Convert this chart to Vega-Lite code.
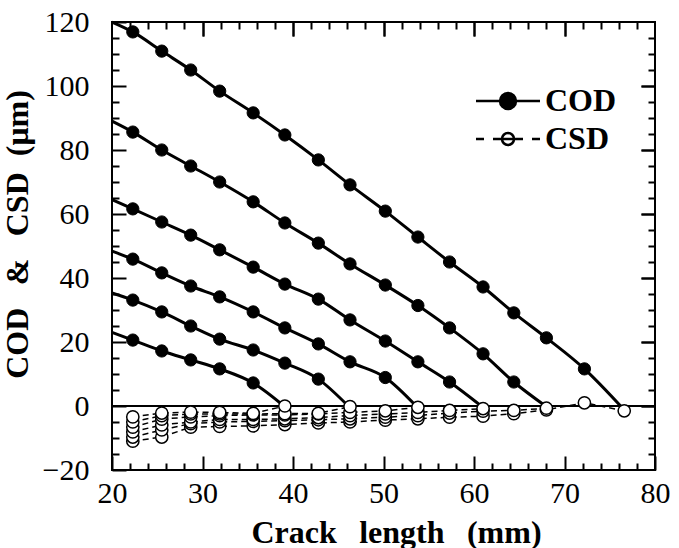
{
  "$schema": "https://vega.github.io/schema/vega-lite/v6.json",
  "width": 543,
  "height": 448,
  "autosize": {"type": "none"},
  "padding": {"left": 112, "top": 22, "right": 24, "bottom": 78},
  "background": "white",
  "config": {
    "font": "Liberation Serif",
    "view": {"stroke": "black", "strokeWidth": 2},
    "axis": {"grid": false, "domain": false, "labelFont": "Liberation Serif", "titleFont": "Liberation Serif", "labelColor": "black", "titleColor": "black", "tickColor": "black", "tickWidth": 2, "tickOpacity": 1, "labelOverlap": false, "zindex": 1}
  },
  "datasets": {
    "d": [
      {"curve": "A", "measure": "COD", "x": 20, "v": 120, "measured": false},
      {"curve": "A", "measure": "COD", "x": 22.3, "v": 116.9, "measured": true},
      {"curve": "A", "measure": "COD", "x": 25.5, "v": 110.9, "measured": true},
      {"curve": "A", "measure": "COD", "x": 28.7, "v": 105.0, "measured": true},
      {"curve": "A", "measure": "COD", "x": 31.9, "v": 98.4, "measured": true},
      {"curve": "A", "measure": "COD", "x": 35.6, "v": 91.6, "measured": true},
      {"curve": "A", "measure": "COD", "x": 39.1, "v": 84.7, "measured": true},
      {"curve": "A", "measure": "COD", "x": 42.8, "v": 76.9, "measured": true},
      {"curve": "A", "measure": "COD", "x": 46.3, "v": 69.1, "measured": true},
      {"curve": "A", "measure": "COD", "x": 50.2, "v": 60.9, "measured": true},
      {"curve": "A", "measure": "COD", "x": 53.8, "v": 52.8, "measured": true},
      {"curve": "A", "measure": "COD", "x": 57.3, "v": 45.0, "measured": true},
      {"curve": "A", "measure": "COD", "x": 61.0, "v": 37.2, "measured": true},
      {"curve": "A", "measure": "COD", "x": 64.4, "v": 29.1, "measured": true},
      {"curve": "A", "measure": "COD", "x": 68.0, "v": 21.3, "measured": true},
      {"curve": "A", "measure": "COD", "x": 72.2, "v": 11.6, "measured": true},
      {"curve": "A", "measure": "COD", "x": 76.2, "v": 0, "measured": false},
      {"curve": "B", "measure": "COD", "x": 20, "v": 89, "measured": false},
      {"curve": "B", "measure": "COD", "x": 22.3, "v": 85.6, "measured": true},
      {"curve": "B", "measure": "COD", "x": 25.5, "v": 80.0, "measured": true},
      {"curve": "B", "measure": "COD", "x": 28.7, "v": 75.0, "measured": true},
      {"curve": "B", "measure": "COD", "x": 31.9, "v": 70.0, "measured": true},
      {"curve": "B", "measure": "COD", "x": 35.6, "v": 63.8, "measured": true},
      {"curve": "B", "measure": "COD", "x": 39.1, "v": 57.2, "measured": true},
      {"curve": "B", "measure": "COD", "x": 42.8, "v": 50.9, "measured": true},
      {"curve": "B", "measure": "COD", "x": 46.3, "v": 44.4, "measured": true},
      {"curve": "B", "measure": "COD", "x": 50.2, "v": 37.8, "measured": true},
      {"curve": "B", "measure": "COD", "x": 53.8, "v": 31.4, "measured": true},
      {"curve": "B", "measure": "COD", "x": 57.3, "v": 24.4, "measured": true},
      {"curve": "B", "measure": "COD", "x": 61.0, "v": 16.3, "measured": true},
      {"curve": "B", "measure": "COD", "x": 64.4, "v": 7.5, "measured": true},
      {"curve": "B", "measure": "COD", "x": 67.9, "v": 0, "measured": false},
      {"curve": "C", "measure": "COD", "x": 20, "v": 64.5, "measured": false},
      {"curve": "C", "measure": "COD", "x": 22.3, "v": 61.6, "measured": true},
      {"curve": "C", "measure": "COD", "x": 25.5, "v": 57.5, "measured": true},
      {"curve": "C", "measure": "COD", "x": 28.7, "v": 53.4, "measured": true},
      {"curve": "C", "measure": "COD", "x": 31.9, "v": 48.8, "measured": true},
      {"curve": "C", "measure": "COD", "x": 35.6, "v": 43.4, "measured": true},
      {"curve": "C", "measure": "COD", "x": 39.1, "v": 38.1, "measured": true},
      {"curve": "C", "measure": "COD", "x": 42.8, "v": 33.4, "measured": true},
      {"curve": "C", "measure": "COD", "x": 46.3, "v": 26.9, "measured": true},
      {"curve": "C", "measure": "COD", "x": 50.2, "v": 20.3, "measured": true},
      {"curve": "C", "measure": "COD", "x": 53.8, "v": 13.8, "measured": true},
      {"curve": "C", "measure": "COD", "x": 57.3, "v": 7.5, "measured": true},
      {"curve": "C", "measure": "COD", "x": 60.8, "v": 0, "measured": false},
      {"curve": "D", "measure": "COD", "x": 20, "v": 48.4, "measured": false},
      {"curve": "D", "measure": "COD", "x": 22.3, "v": 45.9, "measured": true},
      {"curve": "D", "measure": "COD", "x": 25.5, "v": 41.6, "measured": true},
      {"curve": "D", "measure": "COD", "x": 28.7, "v": 37.5, "measured": true},
      {"curve": "D", "measure": "COD", "x": 31.9, "v": 34.1, "measured": true},
      {"curve": "D", "measure": "COD", "x": 35.6, "v": 29.4, "measured": true},
      {"curve": "D", "measure": "COD", "x": 39.1, "v": 24.4, "measured": true},
      {"curve": "D", "measure": "COD", "x": 42.8, "v": 19.4, "measured": true},
      {"curve": "D", "measure": "COD", "x": 46.3, "v": 13.8, "measured": true},
      {"curve": "D", "measure": "COD", "x": 50.2, "v": 8.9, "measured": true},
      {"curve": "D", "measure": "COD", "x": 53.6, "v": 0, "measured": false},
      {"curve": "E", "measure": "COD", "x": 20, "v": 35.3, "measured": false},
      {"curve": "E", "measure": "COD", "x": 22.3, "v": 33.1, "measured": true},
      {"curve": "E", "measure": "COD", "x": 25.5, "v": 29.4, "measured": true},
      {"curve": "E", "measure": "COD", "x": 28.7, "v": 25.0, "measured": true},
      {"curve": "E", "measure": "COD", "x": 31.9, "v": 20.9, "measured": true},
      {"curve": "E", "measure": "COD", "x": 35.6, "v": 17.5, "measured": true},
      {"curve": "E", "measure": "COD", "x": 39.1, "v": 13.4, "measured": true},
      {"curve": "E", "measure": "COD", "x": 42.8, "v": 8.4, "measured": true},
      {"curve": "E", "measure": "COD", "x": 46.1, "v": 0, "measured": false},
      {"curve": "F", "measure": "COD", "x": 20, "v": 23.0, "measured": false},
      {"curve": "F", "measure": "COD", "x": 22.3, "v": 20.6, "measured": true},
      {"curve": "F", "measure": "COD", "x": 25.5, "v": 17.2, "measured": true},
      {"curve": "F", "measure": "COD", "x": 28.7, "v": 14.4, "measured": true},
      {"curve": "F", "measure": "COD", "x": 31.9, "v": 11.6, "measured": true},
      {"curve": "F", "measure": "COD", "x": 35.6, "v": 7.2, "measured": true},
      {"curve": "F", "measure": "COD", "x": 39.0, "v": 0, "measured": false},

      {"curve": "A", "measure": "CSD", "x": 22.3, "v": -11.0, "measured": true},
      {"curve": "A", "measure": "CSD", "x": 25.5, "v": -9.7, "measured": true},
      {"curve": "A", "measure": "CSD", "x": 28.7, "v": -6.6, "measured": true},
      {"curve": "A", "measure": "CSD", "x": 31.9, "v": -6.4, "measured": true},
      {"curve": "A", "measure": "CSD", "x": 35.6, "v": -6.2, "measured": true},
      {"curve": "A", "measure": "CSD", "x": 39.1, "v": -5.8, "measured": true},
      {"curve": "A", "measure": "CSD", "x": 42.8, "v": -5.3, "measured": true},
      {"curve": "A", "measure": "CSD", "x": 46.3, "v": -5.0, "measured": true},
      {"curve": "A", "measure": "CSD", "x": 50.2, "v": -4.4, "measured": true},
      {"curve": "A", "measure": "CSD", "x": 53.8, "v": -4.0, "measured": true},
      {"curve": "A", "measure": "CSD", "x": 57.3, "v": -3.5, "measured": true},
      {"curve": "A", "measure": "CSD", "x": 61.0, "v": -3.2, "measured": true},
      {"curve": "A", "measure": "CSD", "x": 64.4, "v": -2.4, "measured": true},
      {"curve": "A", "measure": "CSD", "x": 68.0, "v": -1.2, "measured": true},
      {"curve": "A", "measure": "CSD", "x": 72.2, "v": 1.0, "measured": true},
      {"curve": "A", "measure": "CSD", "x": 76.6, "v": -1.5, "measured": true},
      {"curve": "B", "measure": "CSD", "x": 22.3, "v": -9.7, "measured": true},
      {"curve": "B", "measure": "CSD", "x": 25.5, "v": -7.5, "measured": true},
      {"curve": "B", "measure": "CSD", "x": 28.7, "v": -5.5, "measured": true},
      {"curve": "B", "measure": "CSD", "x": 31.9, "v": -5.0, "measured": true},
      {"curve": "B", "measure": "CSD", "x": 35.6, "v": -4.8, "measured": true},
      {"curve": "B", "measure": "CSD", "x": 39.1, "v": -4.6, "measured": true},
      {"curve": "B", "measure": "CSD", "x": 42.8, "v": -4.3, "measured": true},
      {"curve": "B", "measure": "CSD", "x": 46.3, "v": -4.0, "measured": true},
      {"curve": "B", "measure": "CSD", "x": 50.2, "v": -3.5, "measured": true},
      {"curve": "B", "measure": "CSD", "x": 53.8, "v": -3.0, "measured": true},
      {"curve": "B", "measure": "CSD", "x": 57.3, "v": -2.2, "measured": true},
      {"curve": "B", "measure": "CSD", "x": 61.0, "v": -1.6, "measured": true},
      {"curve": "B", "measure": "CSD", "x": 64.4, "v": -1.4, "measured": true},
      {"curve": "B", "measure": "CSD", "x": 68.0, "v": -0.7, "measured": true},
      {"curve": "C", "measure": "CSD", "x": 22.3, "v": -8.1, "measured": true},
      {"curve": "C", "measure": "CSD", "x": 25.5, "v": -5.9, "measured": true},
      {"curve": "C", "measure": "CSD", "x": 28.7, "v": -5.0, "measured": true},
      {"curve": "C", "measure": "CSD", "x": 31.9, "v": -4.2, "measured": true},
      {"curve": "C", "measure": "CSD", "x": 35.6, "v": -4.2, "measured": true},
      {"curve": "C", "measure": "CSD", "x": 39.1, "v": -4.0, "measured": true},
      {"curve": "C", "measure": "CSD", "x": 42.8, "v": -3.6, "measured": true},
      {"curve": "C", "measure": "CSD", "x": 46.3, "v": -3.0, "measured": true},
      {"curve": "C", "measure": "CSD", "x": 50.2, "v": -2.5, "measured": true},
      {"curve": "C", "measure": "CSD", "x": 53.8, "v": -2.0, "measured": true},
      {"curve": "C", "measure": "CSD", "x": 57.3, "v": -1.4, "measured": true},
      {"curve": "C", "measure": "CSD", "x": 61.0, "v": -0.8, "measured": true},
      {"curve": "D", "measure": "CSD", "x": 22.3, "v": -6.6, "measured": true},
      {"curve": "D", "measure": "CSD", "x": 25.5, "v": -4.1, "measured": true},
      {"curve": "D", "measure": "CSD", "x": 28.7, "v": -3.4, "measured": true},
      {"curve": "D", "measure": "CSD", "x": 31.9, "v": -3.0, "measured": true},
      {"curve": "D", "measure": "CSD", "x": 35.6, "v": -2.8, "measured": true},
      {"curve": "D", "measure": "CSD", "x": 39.1, "v": -2.8, "measured": true},
      {"curve": "D", "measure": "CSD", "x": 42.8, "v": -2.5, "measured": true},
      {"curve": "D", "measure": "CSD", "x": 46.3, "v": -2.0, "measured": true},
      {"curve": "D", "measure": "CSD", "x": 50.2, "v": -1.5, "measured": true},
      {"curve": "D", "measure": "CSD", "x": 53.8, "v": -0.4, "measured": true},
      {"curve": "E", "measure": "CSD", "x": 22.3, "v": -5.0, "measured": true},
      {"curve": "E", "measure": "CSD", "x": 25.5, "v": -3.0, "measured": true},
      {"curve": "E", "measure": "CSD", "x": 28.7, "v": -2.5, "measured": true},
      {"curve": "E", "measure": "CSD", "x": 31.9, "v": -2.5, "measured": true},
      {"curve": "E", "measure": "CSD", "x": 35.6, "v": -2.5, "measured": true},
      {"curve": "E", "measure": "CSD", "x": 39.1, "v": -2.4, "measured": true},
      {"curve": "E", "measure": "CSD", "x": 42.8, "v": -2.3, "measured": true},
      {"curve": "E", "measure": "CSD", "x": 46.3, "v": -0.2, "measured": true},
      {"curve": "F", "measure": "CSD", "x": 22.3, "v": -3.4, "measured": true},
      {"curve": "F", "measure": "CSD", "x": 25.5, "v": -2.2, "measured": true},
      {"curve": "F", "measure": "CSD", "x": 28.7, "v": -1.9, "measured": true},
      {"curve": "F", "measure": "CSD", "x": 31.9, "v": -2.0, "measured": true},
      {"curve": "F", "measure": "CSD", "x": 35.6, "v": -2.3, "measured": true},
      {"curve": "F", "measure": "CSD", "x": 39.1, "v": 0.0, "measured": true}
    ]
  },
  "data": {"name": "d"},
  "layer": [
    {
      "data": {"values": [{"ref": 0}]},
      "mark": {"type": "rule", "stroke": "black", "strokeWidth": 2},
      "encoding": {
        "x": {"datum": 20, "type": "quantitative", "scale": {"domain": [20, 80], "nice": false, "zero": false},
          "axis": {"orient": "bottom", "zindex": 1, "values": [20, 30, 40, 50, 60, 70, 80], "ticks": true, "tickSize": -14, "tickColor": "black", "labelPadding": 22, "labelFontSize": 30, "labelFlush": false, "title": "Crack\u2002\u2009length\u2002\u2009(mm)", "titleFontSize": 32, "titleFontWeight": "bold", "titleX": 284, "titleY": 47}},
        "x2": {"datum": 80},
        "y": {"datum": 0, "type": "quantitative", "scale": {"domain": [-20, 120], "nice": false, "zero": false},
          "axis": {"orient": "left", "zindex": 1, "values": [-20, 0, 20, 40, 60, 80, 100, 120], "ticks": true, "tickSize": -14, "tickColor": "black", "labelPadding": 37, "labelFontSize": 30, "labelFlush": false, "title": "COD\u2002\u2009&\u2002\u2009CSD\u2002(\u03bcm)", "titleFontSize": 32, "titleFontWeight": "bold", "titleX": -78, "titleY": 212}}
      }
    },
    {
      "transform": [{"filter": "datum.measure === 'COD'"}],
      "mark": {"type": "line", "stroke": "black", "strokeWidth": 3, "interpolate": "monotone"},
      "encoding": {
        "x": {"field": "x", "type": "quantitative", "axis": {"orient": "bottom", "zindex": 1, "values": [22, 24, 26, 28, 32, 34, 36, 38, 42, 44, 46, 48, 52, 54, 56, 58, 62, 64, 66, 68, 72, 74, 76, 78], "labels": false, "ticks": true, "tickSize": -7, "tickColor": "black", "title": null}},
        "y": {"field": "v", "type": "quantitative", "axis": {"orient": "left", "zindex": 1, "values": [-15, -10, -5, 5, 10, 15, 25, 30, 35, 45, 50, 55, 65, 70, 75, 85, 90, 95, 105, 110, 115], "labels": false, "ticks": true, "tickSize": -7, "tickColor": "black", "title": null}},
        "detail": {"field": "curve"}
      }
    },
    {
      "transform": [{"filter": "datum.measure === 'CSD'"}],
      "mark": {"type": "line", "stroke": "black", "strokeWidth": 1.5, "strokeDash": [6, 4]},
      "encoding": {
        "x": {"field": "x", "type": "quantitative", "axis": {"orient": "top", "zindex": 1, "values": [22, 24, 26, 28, 32, 34, 36, 38, 42, 44, 46, 48, 52, 54, 56, 58, 62, 64, 66, 68, 72, 74, 76, 78], "labels": false, "ticks": true, "tickSize": -7, "tickColor": "black", "title": null}},
        "y": {"field": "v", "type": "quantitative", "axis": {"orient": "right", "zindex": 1, "values": [-15, -10, -5, 5, 10, 15, 25, 30, 35, 45, 50, 55, 65, 70, 75, 85, 90, 95, 105, 110, 115], "labels": false, "ticks": true, "tickSize": -7, "tickColor": "black", "title": null}},
        "detail": {"field": "curve"}
      }
    },
    {
      "transform": [{"filter": "datum.measure === 'COD' && datum.measured"}],
      "mark": {"type": "point", "shape": "circle", "filled": true, "size": 150, "stroke": "black", "strokeWidth": 1, "opacity": 1},
      "encoding": {
        "x": {"field": "x", "type": "quantitative", "axis": {"orient": "top", "zindex": 1, "values": [30, 40, 50, 60, 70], "labels": false, "ticks": true, "tickSize": -14, "tickColor": "black", "title": null}},
        "y": {"field": "v", "type": "quantitative", "axis": {"orient": "right", "zindex": 1, "values": [0, 20, 40, 60, 80, 100], "labels": false, "ticks": true, "tickSize": -14, "tickColor": "black", "title": null}},
        "fill": {"field": "measure", "type": "nominal", "scale": {"domain": ["COD", "CSD"], "range": ["black", "white"]},
          "legend": {"orient": "none", "legendX": 380, "legendY": 63, "title": null, "labelFont": "Liberation Serif", "labelFontSize": 32, "labelFontWeight": "bold", "labelColor": "black", "symbolSize": 400, "labelOffset": 21, "rowPadding": 6, "padding": 0,
            "encoding": {"symbols": {
              "shape": {"condition": {"test": "datum.value === 'COD'", "value": "M-3.2,0H-0.8M0.8,0H3.2M0.8,0A0.8,0.8,0,1,1,-0.8,0A0.8,0.8,0,1,1,0.8,0Z"}, "value": "M-3.2,0H-2.4M-1.5,0H-0.6M0.6,0H1.5M2.4,0H3.2M-0.6,0H0.6M0.6,0A0.6,0.6,0,1,1,-0.6,0A0.6,0.6,0,1,1,0.6,0Z"},
              "stroke": {"value": "black"},
              "strokeWidth": {"value": 2.5},
              "opacity": {"value": 1}
            }}}}
      }
    },
    {
      "transform": [{"filter": "datum.measure === 'CSD'"}],
      "mark": {"type": "point", "shape": "circle", "filled": true, "size": 150, "stroke": "black", "strokeWidth": 1.5, "opacity": 1},
      "encoding": {
        "x": {"field": "x", "type": "quantitative", "axis": {"orient": "top", "zindex": 1, "values": [30, 40, 50, 60, 70], "labels": false, "ticks": true, "tickSize": -14, "tickColor": "black", "title": null}},
        "y": {"field": "v", "type": "quantitative", "axis": {"orient": "right", "zindex": 1, "values": [0, 20, 40, 60, 80, 100], "labels": false, "ticks": true, "tickSize": -14, "tickColor": "black", "title": null}},
        "fill": {"field": "measure", "type": "nominal", "legend": null}
      }
    }
  ],
  "resolve": {"axis": {"x": "independent", "y": "independent"}}
}
